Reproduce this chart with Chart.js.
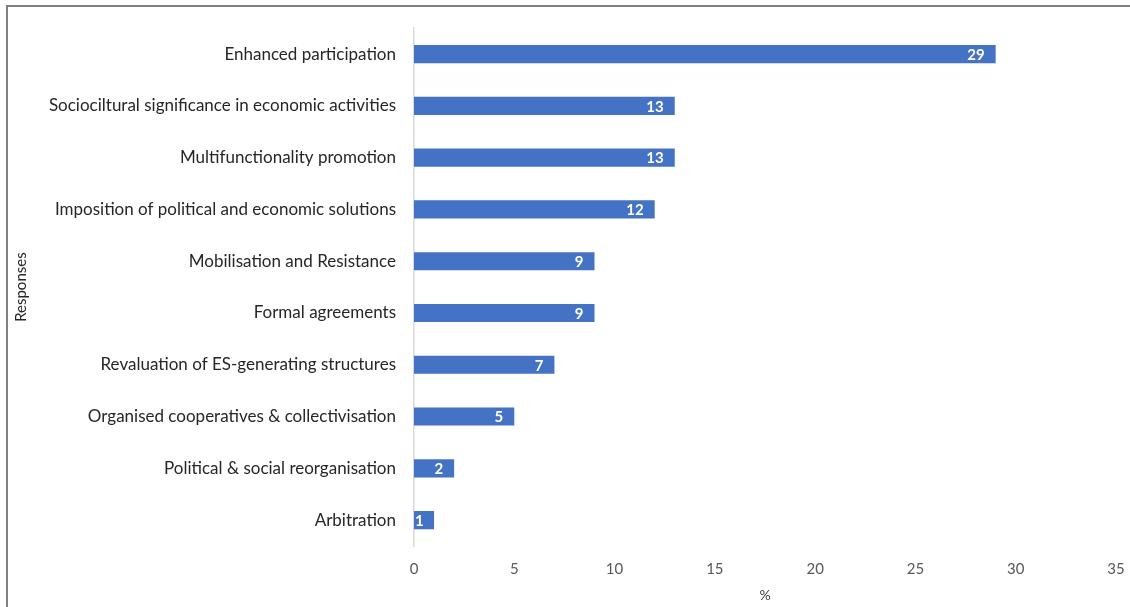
<!DOCTYPE html>
<html lang="en">
<head>
    <meta charset="UTF-8">
    <title>Responses</title>
    <script src="https://cdn.jsdelivr.net/npm/chart.js"></script>
    <style>
        body { margin: 0; background: #fff; overflow: hidden; }
        #frame {
            position: absolute; left: 6px; top: 5px;
            width: 1200px; height: 700px;
            border-top: 2px solid #808080;
            border-left: 2px solid #808080;
        }
        #chart { position: absolute; left: 0; top: 0; }
    </style>
</head>
<body>
    <div id="frame"></div>
    <canvas id="chart" width="1130" height="607"></canvas>

    <script>
        // categories, top to bottom
        const responses = [
            'Enhanced participation',
            'Sociociltural significance in economic activities',
            'Multifunctionality promotion',
            'Imposition of political and economic solutions',
            'Mobilisation and Resistance',
            'Formal agreements',
            'Revaluation of ES-generating structures',
            'Organised cooperatives & collectivisation',
            'Political & social reorganisation',
            'Arbitration'
        ];
        const percents = [29, 13, 13, 12, 9, 9, 7, 5, 2, 1];
        const xTicks = [0, 5, 10, 15, 20, 25, 30, 35];

        const FONT = 'Lato, "Open Sans", sans-serif';

        // white value labels at the inner end of each bar
        const valueLabels = {
            id: 'valueLabels',
            afterDatasetsDraw(chart) {
                const ctx = chart.ctx;
                const meta = chart.getDatasetMeta(0);
                ctx.save();
                ctx.font = 'bold 15px ' + FONT;
                ctx.fillStyle = '#ffffff';
                ctx.textBaseline = 'middle';
                ctx.textAlign = 'left';
                meta.data.forEach((bar, i) => {
                    const txt = String(percents[i]);
                    const w = ctx.measureText(txt).width;
                    let x = bar.x - 11 - w;
                    if (x < bar.base + 1) x = bar.base + 1;
                    ctx.fillText(txt, x, bar.y + 1);
                });
                ctx.restore();
            }
        };

        new Chart(document.getElementById('chart'), {
            type: 'bar',
            data: {
                labels: responses,
                datasets: [{
                    data: percents,
                    backgroundColor: '#4472C4',
                    borderWidth: 0,
                    categoryPercentage: 1,
                    barPercentage: 0.35
                }]
            },
            options: {
                indexAxis: 'y',
                responsive: false,
                animation: false,
                layout: { padding: { top: 25, right: 14, left: 0, bottom: 0 } },
                plugins: {
                    legend: { display: false },
                    tooltip: { enabled: false }
                },
                scales: {
                    x: {
                        min: 0,
                        max: 35,
                        afterBuildTicks: (scale) => {
                            scale.ticks = xTicks.map(v => ({ value: v }));
                        },
                        afterFit: (scale) => {
                            scale.height = 61;
                            scale.paddingLeft = 0;
                            scale.paddingRight = 0;
                        },
                        grid: { display: false, drawTicks: false },
                        border: { display: false },
                        ticks: {
                            padding: 14,
                            color: '#595959',
                            font: { family: FONT, size: 15 }
                        },
                        title: {
                            display: true,
                            text: '%',
                            color: '#404040',
                            padding: { top: 0, bottom: 3 },
                            font: { family: FONT, size: 14 }
                        }
                    },
                    y: {
                        afterFit: (scale) => { scale.width = 414; },
                        grid: { display: false, drawTicks: false },
                        border: { display: true, color: '#d9d9d9', width: 1.5 },
                        ticks: {
                            padding: 18,
                            color: '#262626',
                            font: { family: FONT, size: 17 }
                        },
                        title: {
                            display: true,
                            text: 'Responses',
                            color: '#262626',
                            padding: { top: 12, bottom: 0 },
                            font: { family: FONT, size: 15 }
                        }
                    }
                }
            },
            plugins: [valueLabels]
        });
    </script>
</body>
</html>
